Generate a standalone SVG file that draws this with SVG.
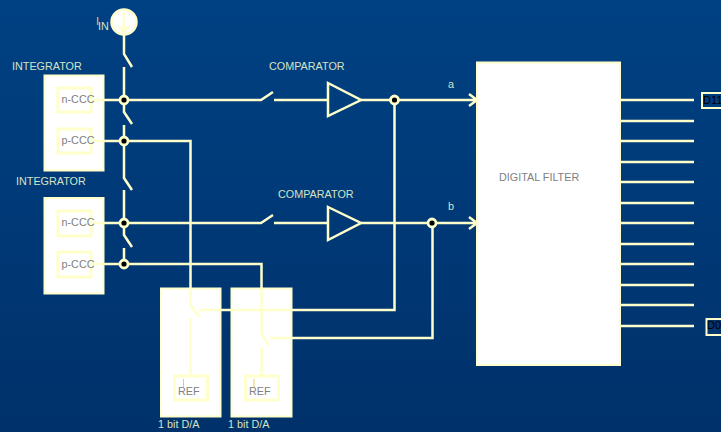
<svg xmlns="http://www.w3.org/2000/svg" width="721" height="432" viewBox="0 0 721 432">
<style>
text{font-family:"Liberation Sans",Arial,sans-serif}
.w{stroke:#ffffcc;stroke-width:2.5;fill:none}
.b{fill:#fff;stroke:#ffffcc;stroke-width:2}
.i{fill:#fff;stroke:#ffffcc;stroke-width:3}
.l{fill:#d5e3c5;font-size:10.800px}
.g{fill:#808080;font-size:10.800px}
.o{stroke:#f0c860;stroke-width:1;fill:none}
.d{fill:#000;stroke:#ffffcc;stroke-width:2.800}
.k{fill:#000;font-size:11px}
</style>
<defs>
<linearGradient id="bg" x1="0" y1="0" x2="0" y2="1"><stop offset="0" stop-color="#004183"/><stop offset="1" stop-color="#00316a"/></linearGradient>
</defs>
<rect width="721" height="432" fill="url(#bg)"/>
<g id="integrator-1"><text class="l" x="12" y="70">INTEGRATOR</text><rect class="b" x="44.500" y="75.500" width="59" height="95"/></g>
<g id="integrator-2"><text class="l" x="16" y="185">INTEGRATOR</text><rect class="b" x="44.500" y="198" width="59" height="95.500"/></g>
<g id="dac-1"><rect class="b" x="161" y="288.500" width="59.500" height="128"/></g>
<g id="dac-2"><rect class="b" x="231.500" y="288.500" width="60" height="128"/></g>
<g id="filter"><rect class="b" x="477" y="62.500" width="143" height="302.500"/><text class="g" x="499" y="181">DIGITAL FILTER</text></g>
<g id="n-ccc-1"><rect class="i" x="58" y="88" width="33" height="24"/></g>
<g id="p-ccc-1"><rect class="i" x="58" y="129" width="33" height="24"/></g>
<g id="n-ccc-2"><rect class="i" x="58" y="211" width="33" height="25"/></g>
<g id="p-ccc-2"><rect class="i" x="58" y="252" width="33" height="25"/></g>
<g id="ref-1"><rect class="i" x="174.500" y="376" width="33" height="24"/></g>
<g id="ref-2"><rect class="i" x="245.500" y="376" width="33" height="24"/></g>
<g id="connectors" class="w">
<path d="M124 35V54L132 67M124 67V112L132 124M124 125V178L132 190M124 190V235L132 247M124 248V264"/>
<path d="M93 100H261L273 92M274 100H328M361 100H476M469 94L477 100L469 106"/>
<path d="M93 223H261L273 215M274 223H328M361 223H476M469 217L477 223L469 229"/>
<path d="M93 141H190.500V305L199 317M190.500 318V375"/>
<path d="M93 264H261.500V333L269 346M261.500 347V375"/>
<path d="M199 310H394.500V100M270 338H432.500V223"/>
<path d="M620 100H694M620 121H694M620 141H694M620 162H694M620 182H694M620 203H694M620 223H694M620 244H694M620 264H694M620 285H694M620 305H694M620 326H694"/>
</g>
<text class="g" x="61.500" y="103">n-CCC</text>
<text class="g" x="61.500" y="144">p-CCC</text>
<text class="g" x="61.500" y="226">n-CCC</text>
<text class="g" x="61.500" y="268">p-CCC</text>
<path class="o" d="M183.500 379V387"/><text class="g" x="178" y="395">REF</text>
<path class="o" d="M254 379V387"/><text class="g" x="249" y="395">REF</text>
<g id="iin"><circle cx="124" cy="22" r="12.500" fill="#fff" stroke="#ffffcc" stroke-width="2.500"/><path class="w" d="M124 12V32M119 26L124 32L129 26"/><text x="96" y="25" font-size="11" fill="#e8c850">I</text><text class="l" x="98" y="30">IN</text></g>
<g id="comparator-1" class="w"><path d="M328 83L361 100L328 116Z"/><text class="l" x="269" y="70" stroke="none">COMPARATOR</text></g>
<g id="comparator-2" class="w"><path d="M328 207L361 223L328 240Z"/><text class="l" x="278" y="198" stroke="none">COMPARATOR</text></g>
<g id="junctions">
<circle class="d" cx="124" cy="100" r="4"/><circle class="d" cx="124" cy="141" r="4"/><circle class="d" cx="124" cy="223" r="4"/><circle class="d" cx="124" cy="264" r="4"/><circle class="d" cx="394.500" cy="100" r="4"/><circle class="d" cx="432" cy="223" r="4"/>
</g>
<text class="l" x="448" y="88">a</text>
<text class="l" x="448" y="210">b</text>
<g id="d11"><rect x="702" y="93" width="30" height="15" fill="none" stroke="#ffffcc" stroke-width="2"/><text class="k" x="703" y="104">D11</text></g>
<g id="d0"><rect x="706.500" y="319" width="30" height="16" fill="none" stroke="#ffffcc" stroke-width="2"/><text class="k" x="707" y="329">D0</text></g>
<text class="l" x="158" y="428">1 bit D/A</text>
<text class="l" x="228" y="428">1 bit D/A</text>
</svg>
